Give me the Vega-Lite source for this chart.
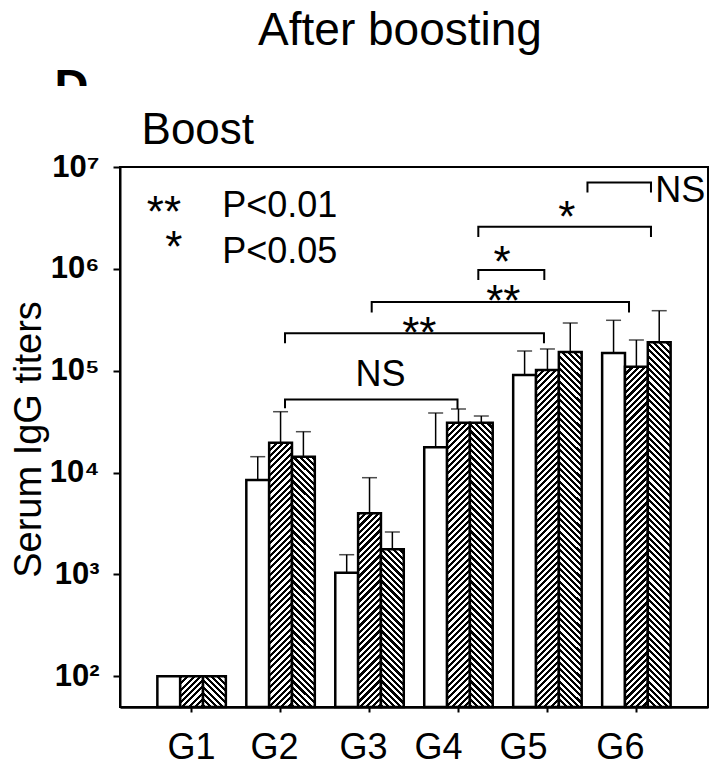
{
  "$schema": "https://vega.github.io/schema/vega-lite/v6.json",
  "width": 588,
  "height": 540,
  "autosize": {"type": "none"},
  "padding": {"left": 120, "top": 167, "right": 3, "bottom": 58},
  "background": "white",
  "config": {
    "font": "Liberation Sans",
    "view": {"stroke": "black", "strokeWidth": 2},
    "axis": {"domainColor": "black", "tickColor": "black", "labelColor": "black", "titleColor": "black", "grid": false, "labelFont": "Liberation Sans", "titleFont": "Liberation Sans"}
  },
  "params": [
    {"name": "hatch", "value": [
      {"offset":0,"color":"black"},{"offset":0.0078125,"color":"black"},{"offset":0.0078125,"color":"white"},{"offset":0.015625,"color":"white"},
      {"offset":0.015625,"color":"black"},{"offset":0.0234375,"color":"black"},{"offset":0.0234375,"color":"white"},{"offset":0.03125,"color":"white"},
      {"offset":0.03125,"color":"black"},{"offset":0.0390625,"color":"black"},{"offset":0.0390625,"color":"white"},{"offset":0.046875,"color":"white"},
      {"offset":0.046875,"color":"black"},{"offset":0.0546875,"color":"black"},{"offset":0.0546875,"color":"white"},{"offset":0.0625,"color":"white"},
      {"offset":0.0625,"color":"black"},{"offset":0.0703125,"color":"black"},{"offset":0.0703125,"color":"white"},{"offset":0.078125,"color":"white"},
      {"offset":0.078125,"color":"black"},{"offset":0.0859375,"color":"black"},{"offset":0.0859375,"color":"white"},{"offset":0.09375,"color":"white"},
      {"offset":0.09375,"color":"black"},{"offset":0.1015625,"color":"black"},{"offset":0.1015625,"color":"white"},{"offset":0.109375,"color":"white"},
      {"offset":0.109375,"color":"black"},{"offset":0.1171875,"color":"black"},{"offset":0.1171875,"color":"white"},{"offset":0.125,"color":"white"},
      {"offset":0.125,"color":"black"},{"offset":0.1328125,"color":"black"},{"offset":0.1328125,"color":"white"},{"offset":0.140625,"color":"white"},
      {"offset":0.140625,"color":"black"},{"offset":0.1484375,"color":"black"},{"offset":0.1484375,"color":"white"},{"offset":0.15625,"color":"white"},
      {"offset":0.15625,"color":"black"},{"offset":0.1640625,"color":"black"},{"offset":0.1640625,"color":"white"},{"offset":0.171875,"color":"white"},
      {"offset":0.171875,"color":"black"},{"offset":0.1796875,"color":"black"},{"offset":0.1796875,"color":"white"},{"offset":0.1875,"color":"white"},
      {"offset":0.1875,"color":"black"},{"offset":0.1953125,"color":"black"},{"offset":0.1953125,"color":"white"},{"offset":0.203125,"color":"white"},
      {"offset":0.203125,"color":"black"},{"offset":0.2109375,"color":"black"},{"offset":0.2109375,"color":"white"},{"offset":0.21875,"color":"white"},
      {"offset":0.21875,"color":"black"},{"offset":0.2265625,"color":"black"},{"offset":0.2265625,"color":"white"},{"offset":0.234375,"color":"white"},
      {"offset":0.234375,"color":"black"},{"offset":0.2421875,"color":"black"},{"offset":0.2421875,"color":"white"},{"offset":0.25,"color":"white"},
      {"offset":0.25,"color":"black"},{"offset":0.2578125,"color":"black"},{"offset":0.2578125,"color":"white"},{"offset":0.265625,"color":"white"},
      {"offset":0.265625,"color":"black"},{"offset":0.2734375,"color":"black"},{"offset":0.2734375,"color":"white"},{"offset":0.28125,"color":"white"},
      {"offset":0.28125,"color":"black"},{"offset":0.2890625,"color":"black"},{"offset":0.2890625,"color":"white"},{"offset":0.296875,"color":"white"},
      {"offset":0.296875,"color":"black"},{"offset":0.3046875,"color":"black"},{"offset":0.3046875,"color":"white"},{"offset":0.3125,"color":"white"},
      {"offset":0.3125,"color":"black"},{"offset":0.3203125,"color":"black"},{"offset":0.3203125,"color":"white"},{"offset":0.328125,"color":"white"},
      {"offset":0.328125,"color":"black"},{"offset":0.3359375,"color":"black"},{"offset":0.3359375,"color":"white"},{"offset":0.34375,"color":"white"},
      {"offset":0.34375,"color":"black"},{"offset":0.3515625,"color":"black"},{"offset":0.3515625,"color":"white"},{"offset":0.359375,"color":"white"},
      {"offset":0.359375,"color":"black"},{"offset":0.3671875,"color":"black"},{"offset":0.3671875,"color":"white"},{"offset":0.375,"color":"white"},
      {"offset":0.375,"color":"black"},{"offset":0.3828125,"color":"black"},{"offset":0.3828125,"color":"white"},{"offset":0.390625,"color":"white"},
      {"offset":0.390625,"color":"black"},{"offset":0.3984375,"color":"black"},{"offset":0.3984375,"color":"white"},{"offset":0.40625,"color":"white"},
      {"offset":0.40625,"color":"black"},{"offset":0.4140625,"color":"black"},{"offset":0.4140625,"color":"white"},{"offset":0.421875,"color":"white"},
      {"offset":0.421875,"color":"black"},{"offset":0.4296875,"color":"black"},{"offset":0.4296875,"color":"white"},{"offset":0.4375,"color":"white"},
      {"offset":0.4375,"color":"black"},{"offset":0.4453125,"color":"black"},{"offset":0.4453125,"color":"white"},{"offset":0.453125,"color":"white"},
      {"offset":0.453125,"color":"black"},{"offset":0.4609375,"color":"black"},{"offset":0.4609375,"color":"white"},{"offset":0.46875,"color":"white"},
      {"offset":0.46875,"color":"black"},{"offset":0.4765625,"color":"black"},{"offset":0.4765625,"color":"white"},{"offset":0.484375,"color":"white"},
      {"offset":0.484375,"color":"black"},{"offset":0.4921875,"color":"black"},{"offset":0.4921875,"color":"white"},{"offset":0.5,"color":"white"},
      {"offset":0.5,"color":"black"},{"offset":0.5078125,"color":"black"},{"offset":0.5078125,"color":"white"},{"offset":0.515625,"color":"white"},
      {"offset":0.515625,"color":"black"},{"offset":0.5234375,"color":"black"},{"offset":0.5234375,"color":"white"},{"offset":0.53125,"color":"white"},
      {"offset":0.53125,"color":"black"},{"offset":0.5390625,"color":"black"},{"offset":0.5390625,"color":"white"},{"offset":0.546875,"color":"white"},
      {"offset":0.546875,"color":"black"},{"offset":0.5546875,"color":"black"},{"offset":0.5546875,"color":"white"},{"offset":0.5625,"color":"white"},
      {"offset":0.5625,"color":"black"},{"offset":0.5703125,"color":"black"},{"offset":0.5703125,"color":"white"},{"offset":0.578125,"color":"white"},
      {"offset":0.578125,"color":"black"},{"offset":0.5859375,"color":"black"},{"offset":0.5859375,"color":"white"},{"offset":0.59375,"color":"white"},
      {"offset":0.59375,"color":"black"},{"offset":0.6015625,"color":"black"},{"offset":0.6015625,"color":"white"},{"offset":0.609375,"color":"white"},
      {"offset":0.609375,"color":"black"},{"offset":0.6171875,"color":"black"},{"offset":0.6171875,"color":"white"},{"offset":0.625,"color":"white"},
      {"offset":0.625,"color":"black"},{"offset":0.6328125,"color":"black"},{"offset":0.6328125,"color":"white"},{"offset":0.640625,"color":"white"},
      {"offset":0.640625,"color":"black"},{"offset":0.6484375,"color":"black"},{"offset":0.6484375,"color":"white"},{"offset":0.65625,"color":"white"},
      {"offset":0.65625,"color":"black"},{"offset":0.6640625,"color":"black"},{"offset":0.6640625,"color":"white"},{"offset":0.671875,"color":"white"},
      {"offset":0.671875,"color":"black"},{"offset":0.6796875,"color":"black"},{"offset":0.6796875,"color":"white"},{"offset":0.6875,"color":"white"},
      {"offset":0.6875,"color":"black"},{"offset":0.6953125,"color":"black"},{"offset":0.6953125,"color":"white"},{"offset":0.703125,"color":"white"},
      {"offset":0.703125,"color":"black"},{"offset":0.7109375,"color":"black"},{"offset":0.7109375,"color":"white"},{"offset":0.71875,"color":"white"},
      {"offset":0.71875,"color":"black"},{"offset":0.7265625,"color":"black"},{"offset":0.7265625,"color":"white"},{"offset":0.734375,"color":"white"},
      {"offset":0.734375,"color":"black"},{"offset":0.7421875,"color":"black"},{"offset":0.7421875,"color":"white"},{"offset":0.75,"color":"white"},
      {"offset":0.75,"color":"black"},{"offset":0.7578125,"color":"black"},{"offset":0.7578125,"color":"white"},{"offset":0.765625,"color":"white"},
      {"offset":0.765625,"color":"black"},{"offset":0.7734375,"color":"black"},{"offset":0.7734375,"color":"white"},{"offset":0.78125,"color":"white"},
      {"offset":0.78125,"color":"black"},{"offset":0.7890625,"color":"black"},{"offset":0.7890625,"color":"white"},{"offset":0.796875,"color":"white"},
      {"offset":0.796875,"color":"black"},{"offset":0.8046875,"color":"black"},{"offset":0.8046875,"color":"white"},{"offset":0.8125,"color":"white"},
      {"offset":0.8125,"color":"black"},{"offset":0.8203125,"color":"black"},{"offset":0.8203125,"color":"white"},{"offset":0.828125,"color":"white"},
      {"offset":0.828125,"color":"black"},{"offset":0.8359375,"color":"black"},{"offset":0.8359375,"color":"white"},{"offset":0.84375,"color":"white"},
      {"offset":0.84375,"color":"black"},{"offset":0.8515625,"color":"black"},{"offset":0.8515625,"color":"white"},{"offset":0.859375,"color":"white"},
      {"offset":0.859375,"color":"black"},{"offset":0.8671875,"color":"black"},{"offset":0.8671875,"color":"white"},{"offset":0.875,"color":"white"},
      {"offset":0.875,"color":"black"},{"offset":0.8828125,"color":"black"},{"offset":0.8828125,"color":"white"},{"offset":0.890625,"color":"white"},
      {"offset":0.890625,"color":"black"},{"offset":0.8984375,"color":"black"},{"offset":0.8984375,"color":"white"},{"offset":0.90625,"color":"white"},
      {"offset":0.90625,"color":"black"},{"offset":0.9140625,"color":"black"},{"offset":0.9140625,"color":"white"},{"offset":0.921875,"color":"white"},
      {"offset":0.921875,"color":"black"},{"offset":0.9296875,"color":"black"},{"offset":0.9296875,"color":"white"},{"offset":0.9375,"color":"white"},
      {"offset":0.9375,"color":"black"},{"offset":0.9453125,"color":"black"},{"offset":0.9453125,"color":"white"},{"offset":0.953125,"color":"white"},
      {"offset":0.953125,"color":"black"},{"offset":0.9609375,"color":"black"},{"offset":0.9609375,"color":"white"},{"offset":0.96875,"color":"white"},
      {"offset":0.96875,"color":"black"},{"offset":0.9765625,"color":"black"},{"offset":0.9765625,"color":"white"},{"offset":0.984375,"color":"white"},
      {"offset":0.984375,"color":"black"},{"offset":0.9921875,"color":"black"},{"offset":0.9921875,"color":"white"},{"offset":1,"color":"white"}
    ]}
  ],
  "datasets": {
    "bars": [
      {"group":"G1","sub":"A","titer":100,"err":null},
      {"group":"G1","sub":"B","titer":100,"err":null},
      {"group":"G1","sub":"C","titer":100,"err":null},
      {"group":"G2","sub":"A","titer":8460,"err":14330},
      {"group":"G2","sub":"B","titer":19660,"err":39610},
      {"group":"G2","sub":"C","titer":14330,"err":25210},
      {"group":"G3","sub":"A","titer":1041,"err":1563},
      {"group":"G3","sub":"B","titer":3986,"err":8913},
      {"group":"G3","sub":"C","titer":1766,"err":2612},
      {"group":"G4","sub":"A","titer":17720,"err":38470},
      {"group":"G4","sub":"B","titer":30900,"err":42110},
      {"group":"G4","sub":"C","titer":30900,"err":35940},
      {"group":"G5","sub":"A","titer":90810,"err":156200},
      {"group":"G5","sub":"B","titer":101700,"err":163500},
      {"group":"G5","sub":"C","titer":152700,"err":294100},
      {"group":"G6","sub":"A","titer":149300,"err":312700},
      {"group":"G6","sub":"B","titer":109500,"err":200300},
      {"group":"G6","sub":"C","titer":190200,"err":388500}
    ],
    "brackets": [
      {"id":"ns1","k":0,"x":2.05,"y":42780},{"id":"ns1","k":1,"x":2.05,"y":52200},{"id":"ns1","k":2,"x":3.989,"y":52200},{"id":"ns1","k":3,"x":3.989,"y":42110},
      {"id":"ss1","k":0,"x":2.05,"y":185900},{"id":"ss1","k":1,"x":2.05,"y":233100},{"id":"ss1","k":2,"x":4.961,"y":233100},{"id":"ss1","k":3,"x":4.961,"y":185900},
      {"id":"ss2","k":0,"x":3.0245,"y":373000},{"id":"ss2","k":1,"x":3.0245,"y":473200},{"id":"ss2","k":2,"x":5.917,"y":473200},{"id":"ss2","k":3,"x":5.917,"y":373000},
      {"id":"s1","k":0,"x":4.223,"y":778000},{"id":"s1","k":1,"x":4.223,"y":975000},{"id":"s1","k":2,"x":4.965,"y":975000},{"id":"s1","k":3,"x":4.965,"y":778000},
      {"id":"s2","k":0,"x":4.223,"y":2056000},{"id":"s2","k":1,"x":4.223,"y":2594000},{"id":"s2","k":2,"x":6.164,"y":2594000},{"id":"s2","k":3,"x":6.164,"y":2056000},
      {"id":"ns2","k":0,"x":5.45,"y":5623000},{"id":"ns2","k":1,"x":5.45,"y":7047000},{"id":"ns2","k":2,"x":6.164,"y":7047000},{"id":"ns2","k":3,"x":6.164,"y":5623000}
    ],
    "stars": [
      {"label":"**","x":0.6896,"y":2594000},
      {"label":"*","x":0.7987,"y":1176000},
      {"label":"*","x":5.2166,"y":2286000},
      {"label":"*","x":4.489,"y":832300},
      {"label":"**","x":4.504,"y":347000},
      {"label":"**","x":3.5596,"y":166100}
    ],
    "notes": [
      {"label":"P<0.01","x":1.344,"y":3252000},
      {"label":"P<0.05","x":1.344,"y":1134000},
      {"label":"NS","x":6.213,"y":4564000},
      {"label":"NS","x":2.843,"y":70850}
    ]
  },
  "layer": [
    {
      "data": {"name": "bars"},
      "encoding": {
        "x": {"field": "group", "type": "nominal", "scale": {"paddingInner": 0.23, "paddingOuter": 0.42},
          "axis": {"title": null, "labelAngle": 0, "labelFontSize": 36, "labelPadding": 18, "tickSize": 5, "tickWidth": 2, "domainWidth": 2.5,
            "labelOffset": {"expr": "datum.value == 'G1' ? 0 : datum.value == 'G2' ? -6 : datum.value == 'G3' ? -6 : datum.value == 'G4' ? -20 : datum.value == 'G5' ? -24 : -16"}}},
        "xOffset": {"field": "sub", "type": "nominal", "scale": {"paddingInner": 0, "paddingOuter": 0}}
      },
      "layer": [
        {
          "mark": {"type": "bar", "stroke": "black", "strokeWidth": 2.5,
            "fill": {"expr": "datum.sub == 'A' ? 'white' : {'gradient': 'linear', 'x1': 0, 'y1': datum.sub == 'B' ? 0 : 1, 'x2': 9120 / (520 + pow(101.867 * (log(datum.titer) / LN10 - 1.69897), 2)), 'y2': (datum.sub == 'B' ? 0 : 1) + (datum.sub == 'B' ? 400 : -400) * 101.867 * (log(datum.titer) / LN10 - 1.69897) / (520 + pow(101.867 * (log(datum.titer) / LN10 - 1.69897), 2)), 'stops': hatch}"}},
          "encoding": {
            "y": {"field": "titer", "type": "quantitative", "scale": {"type": "log", "domain": [50, 10000000], "nice": false},
              "axis": {"title": "Serum IgG titers", "titleFontSize": 38, "titleFontWeight": "normal", "titlePadding": 1, "titleY": 272,
                "values": [100, 1000, 10000, 100000, 1000000, 10000000],
                "labelExpr": "datum.value == 100 ? '10²' : datum.value == 1000 ? '10³' : datum.value == 10000 ? '10⁴' : datum.value == 100000 ? '10⁵' : datum.value == 1000000 ? '10⁶' : '10⁷'",
                "labelFontSize": 31, "labelFontWeight": "bold", "labelPadding": 14, "tickSize": 7, "tickWidth": 2, "domainWidth": 2}},
            "y2": {"datum": 50}
          }
        },
        {
          "transform": [{"filter": "datum.err != null"}],
          "mark": {"type": "rule", "color": "black", "strokeWidth": 1.5},
          "encoding": {
            "y": {"field": "titer", "type": "quantitative"},
            "y2": {"field": "err"}
          }
        },
        {
          "transform": [{"filter": "datum.err != null"}],
          "mark": {"type": "tick", "orient": "horizontal", "color": "black", "size": 15, "thickness": 1.5},
          "encoding": {
            "y": {"field": "err", "type": "quantitative"}
          }
        }
      ]
    },
    {
      "layer": [
        {
          "data": {"name": "brackets"},
          "mark": {"type": "line", "color": "black", "strokeWidth": 2},
          "encoding": {
            "x": {"field": "x", "type": "quantitative", "scale": {"domain": [0.195, 6.805], "nice": false, "zero": false}, "axis": null},
            "y": {"field": "y", "type": "quantitative"},
            "detail": {"field": "id"},
            "order": {"field": "k"}
          }
        },
        {
          "data": {"name": "stars"},
          "mark": {"type": "text", "font": "Liberation Sans", "fontSize": 44, "align": "center", "baseline": "alphabetic", "color": "black"},
          "encoding": {
            "x": {"field": "x", "type": "quantitative", "scale": {"domain": [0.195, 6.805], "nice": false, "zero": false}, "axis": null},
            "y": {"field": "y", "type": "quantitative"},
            "text": {"field": "label"}
          }
        },
        {
          "data": {"name": "notes"},
          "mark": {"type": "text", "font": "Liberation Sans", "fontSize": 36, "align": "left", "baseline": "alphabetic", "color": "black"},
          "encoding": {
            "x": {"field": "x", "type": "quantitative", "scale": {"domain": [0.195, 6.805], "nice": false, "zero": false}, "axis": null},
            "y": {"field": "y", "type": "quantitative"},
            "text": {"field": "label"}
          }
        },
        {
          "data": {"values": [{}]},
          "mark": {"type": "text", "text": "After boosting", "font": "Liberation Sans", "fontSize": 46, "align": "center", "baseline": "alphabetic", "color": "black"},
          "encoding": {
            "x": {"datum": 3.343, "type": "quantitative", "scale": {"domain": [0.195, 6.805], "nice": false, "zero": false}, "axis": null},
            "y": {"datum": 157700000, "type": "quantitative"}
          }
        },
        {
          "data": {"values": [{}]},
          "mark": {"type": "text", "text": "Boost", "font": "Liberation Sans", "fontSize": 44, "align": "left", "baseline": "alphabetic", "color": "black"},
          "encoding": {
            "x": {"datum": 0.437, "type": "quantitative", "scale": {"domain": [0.195, 6.805], "nice": false, "zero": false}, "axis": null},
            "y": {"datum": 16700000, "type": "quantitative"}
          }
        },
        {
          "data": {"values": [{}]},
          "mark": {"type": "text", "text": "D", "font": "Liberation Sans", "fontSize": 47, "fontWeight": "bold", "align": "left", "baseline": "alphabetic", "color": "black"},
          "encoding": {
            "x": {"datum": -0.54, "type": "quantitative", "scale": {"domain": [0.195, 6.805], "nice": false, "zero": false}, "axis": null},
            "y": {"datum": 43450000, "type": "quantitative"}
          }
        },
        {
          "data": {"values": [{}]},
          "mark": {"type": "rect", "color": "white"},
          "encoding": {
            "x": {"datum": -0.704, "type": "quantitative", "scale": {"domain": [0.195, 6.805], "nice": false, "zero": false}, "axis": null},
            "x2": {"datum": 0.0826},
            "y": {"datum": 37950000, "type": "quantitative"},
            "y2": {"datum": 62410000}
          }
        }
      ]
    }
  ],
  "resolve": {"scale": {"x": "independent"}}
}
